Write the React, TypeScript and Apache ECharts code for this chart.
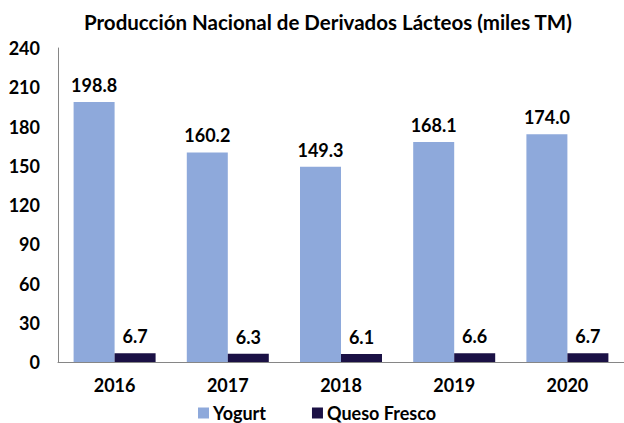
import React, { useEffect, useRef } from "react";
import * as echarts from "echarts";

const categories = ["2016", "2017", "2018", "2019", "2020"];
const yogurt = [198.8, 160.2, 149.3, 168.1, 174.0];
const quesoFresco = [6.7, 6.3, 6.1, 6.6, 6.7];
const seriesNames = ["Yogurt", "Queso Fresco"];
const titleText = "Producción Nacional de Derivados Lácteos (miles TM)";

export default function App() {
  const ref = useRef<HTMLDivElement>(null);
  useEffect(() => {
    if (!ref.current) return;
    const chart = echarts.init(ref.current, null, { renderer: "svg" });
    const font = "Lato, 'Noto Sans', sans-serif";
    const labelStyle = {
      show: true,
      position: "top",
      distance: 8,
      fontFamily: font,
      fontWeight: "bold",
      fontSize: 18,
      color: "#000",
      formatter: (p: any) => Number(p.value).toFixed(1),
    };
    chart.setOption({
      animation: false,
      title: {
        text: titleText,
        left: 79,
        top: 6,
        textStyle: { fontFamily: font, fontWeight: "bold", fontSize: 20.5, color: "#000" },
      },
      legend: {
        top: 399,
        left: 193,
        itemWidth: 11,
        itemHeight: 11,
        itemGap: 46,
        icon: "rect",
        textStyle: { fontFamily: font, fontWeight: "bold", fontSize: 18, color: "#000", padding: [0, 0, 0, -1] },
        data: seriesNames,
      },
      grid: { left: 58, right: -5, top: 48, bottom: 61, containLabel: false },
      xAxis: {
        type: "category",
        data: categories,
        axisLine: { lineStyle: { color: "#868686", width: 1 } },
        axisTick: { show: false },
        axisLabel: { fontFamily: font, fontWeight: "bold", fontSize: 18, color: "#000", margin: 14 },
      },
      yAxis: {
        type: "value",
        min: 0,
        max: 240,
        interval: 30,
        axisLine: { show: true, lineStyle: { color: "#868686", width: 1 } },
        axisTick: { show: false },
        splitLine: { show: false },
        axisLabel: { fontFamily: font, fontWeight: "bold", fontSize: 18, color: "#000", margin: 18 },
      },
      series: [
        {
          name: seriesNames[0],
          type: "bar",
          data: yogurt,
          barWidth: 41,
          barGap: "0%",
          itemStyle: { color: "#8EA9DB" },
          label: labelStyle,
        },
        {
          name: seriesNames[1],
          type: "bar",
          data: quesoFresco,
          barWidth: 41,
          barGap: "0%",
          itemStyle: { color: "#1B1145" },
          label: labelStyle,
        },
      ],
    });
    return () => chart.dispose();
  }, []);
  return <div ref={ref} style={{ width: 624, height: 423, position: "absolute", left: 0, top: 0 }} />;
}
